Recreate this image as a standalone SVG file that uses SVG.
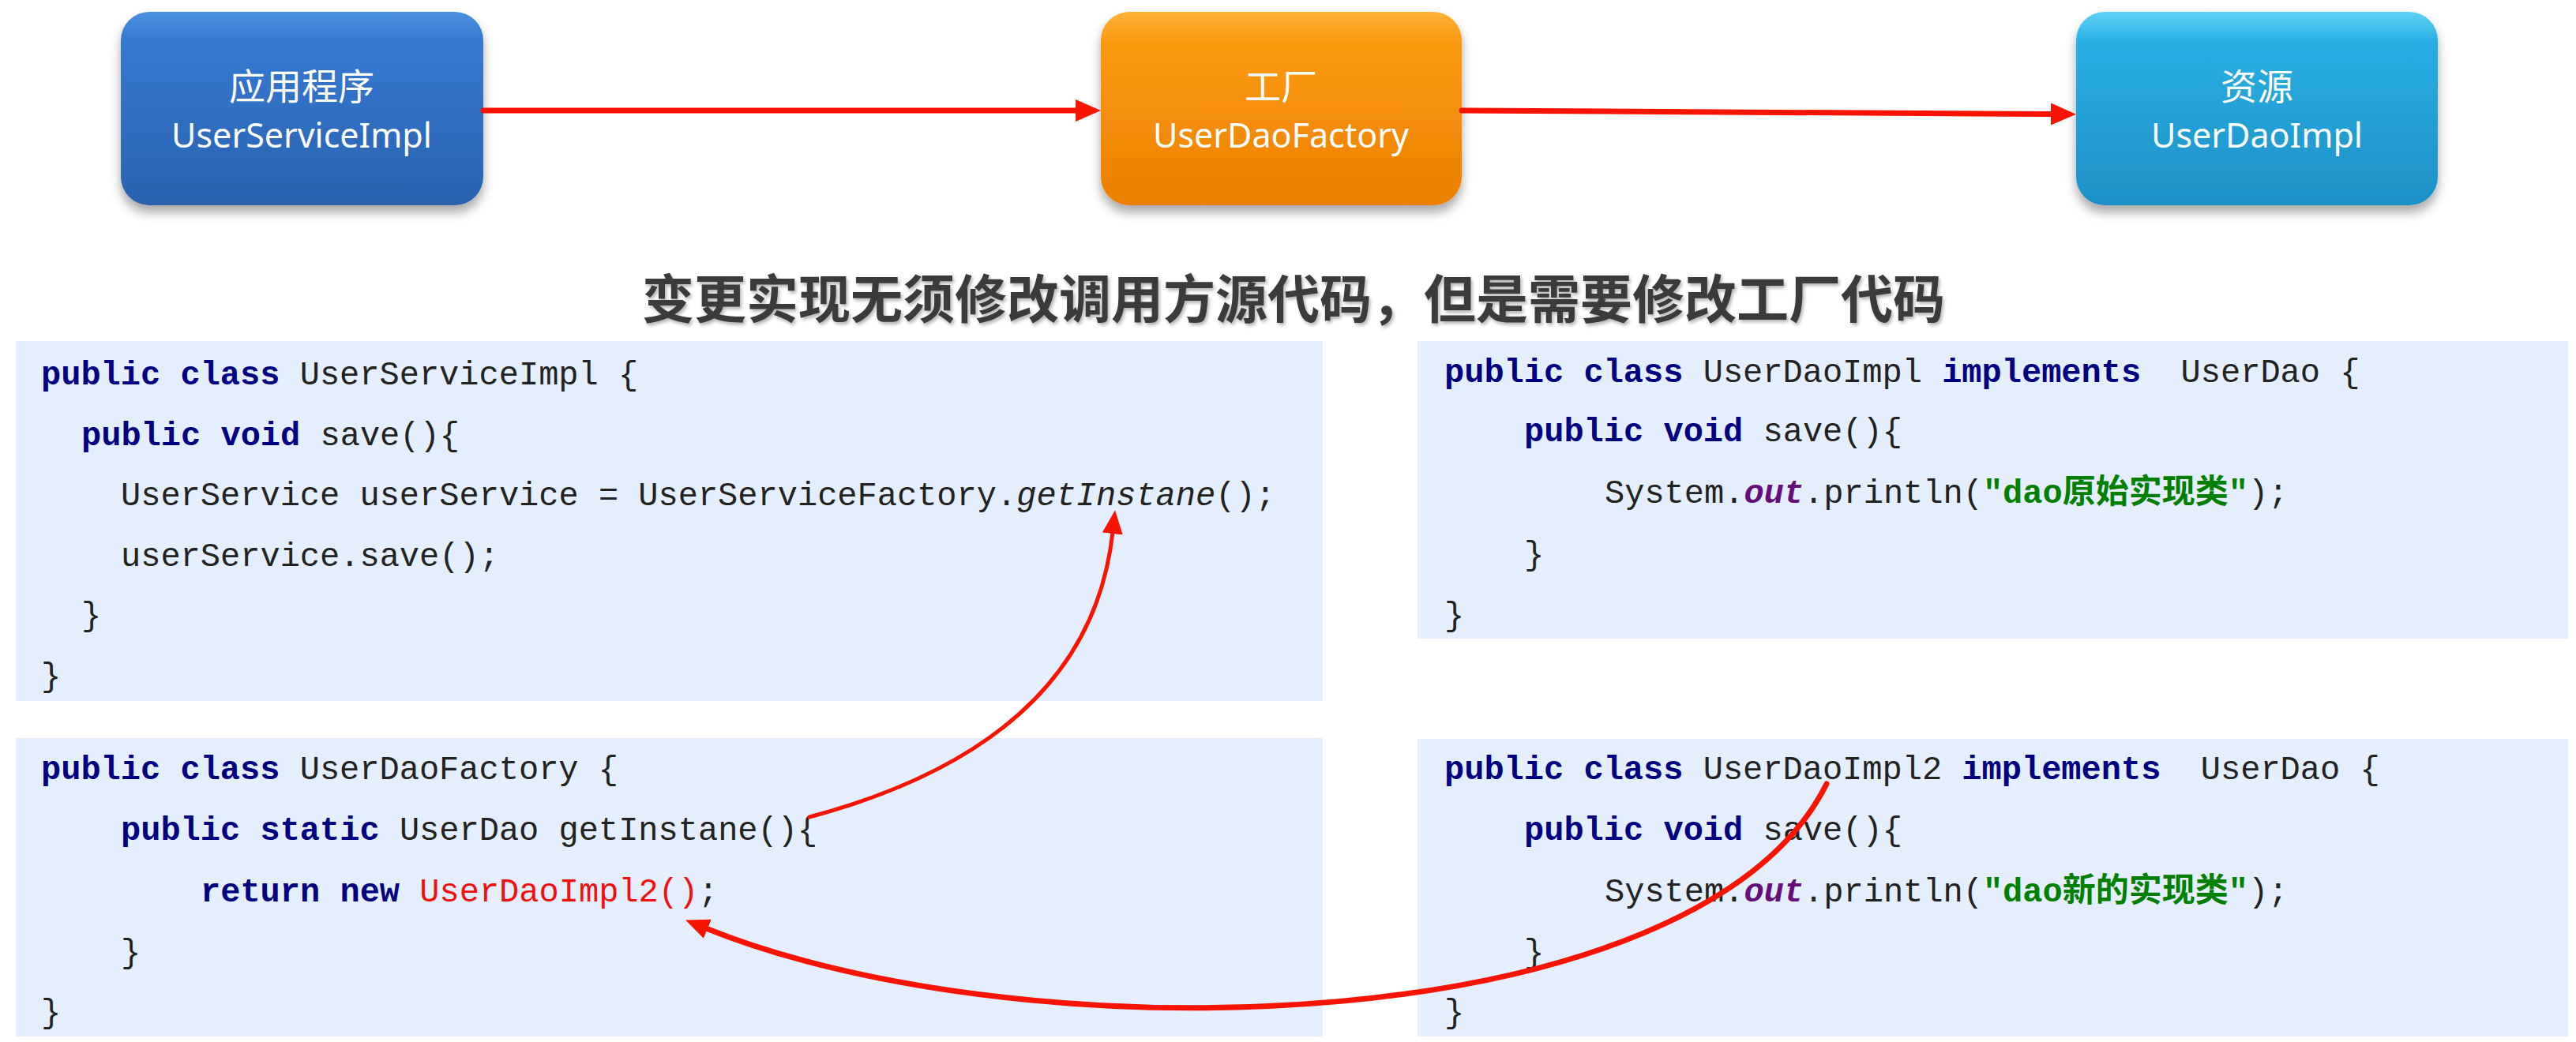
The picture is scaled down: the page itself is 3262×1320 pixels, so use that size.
<svg xmlns="http://www.w3.org/2000/svg" width="3262" height="1320" viewBox="0 0 3262 1320">
<style>
.box-t{font-family:"Noto Sans","Noto Sans CJK SC",sans-serif;fill:#ffffff;text-anchor:middle}
.cjk{font-size:46px}
.lat{font-size:43px}
.title{font-family:"Noto Sans CJK SC",sans-serif;font-weight:bold;font-size:66px;fill:#3a3a3a;text-anchor:middle}
.panel{fill:#e4eefc}
.code{font-family:"Liberation Mono","Noto Sans CJK SC",monospace;font-size:42px;fill:#222222;white-space:pre}
.kw{fill:#000080;font-weight:bold}
.it{font-style:italic}
.fld{fill:#660e7a;font-style:italic;font-weight:bold}
.str{fill:#008000;font-weight:bold}
.red{fill:#f01010}
.conn{fill:none;stroke:#f81400;stroke-linecap:round}
</style>
<defs>
<linearGradient id="gBlue" x1="0" y1="0" x2="0" y2="1">
<stop offset="0" stop-color="#4a90e0"/><stop offset="0.15" stop-color="#3579d2"/><stop offset="1" stop-color="#2a62ae"/>
</linearGradient>
<linearGradient id="gOrange" x1="0" y1="0" x2="0" y2="1">
<stop offset="0" stop-color="#ffb23a"/><stop offset="0.15" stop-color="#fb9a10"/><stop offset="1" stop-color="#ec7f00"/>
</linearGradient>
<linearGradient id="gCyan" x1="0" y1="0" x2="0" y2="1">
<stop offset="0" stop-color="#5fd2f6"/><stop offset="0.15" stop-color="#29b0e4"/><stop offset="1" stop-color="#1e90c6"/>
</linearGradient>
<filter id="sh" x="-10%" y="-10%" width="120%" height="130%">
<feDropShadow dx="0" dy="9" stdDeviation="7" flood-color="#000000" flood-opacity="0.35"/>
</filter>
<filter id="tsh" x="-5%" y="-20%" width="110%" height="150%">
<feDropShadow dx="2" dy="3" stdDeviation="2" flood-color="#000000" flood-opacity="0.3"/>
</filter>
<marker id="ah" markerUnits="userSpaceOnUse" markerWidth="34" markerHeight="30" refX="2" refY="14" orient="auto">
<path d="M0,0 L32,14 L0,28 z" fill="#f81400"/>
</marker>
<marker id="ah2" markerUnits="userSpaceOnUse" markerWidth="34" markerHeight="30" refX="2" refY="13" orient="auto">
<path d="M0,0 L30,13 L0,26 z" fill="#f81400"/>
</marker>
</defs>
<rect width="3262" height="1320" fill="#ffffff"/>

<g id="node-app">
<rect x="153" y="15" width="459" height="245" rx="36" fill="url(#gBlue)" filter="url(#sh)"/>
<text class="box-t cjk" x="382" y="126">应用程序</text>
<text class="box-t lat" x="382" y="187">UserServiceImpl</text>
</g>
<g id="node-factory">
<rect x="1394" y="15" width="457" height="245" rx="36" fill="url(#gOrange)" filter="url(#sh)"/>
<text class="box-t cjk" x="1622" y="126">工厂</text>
<text class="box-t lat" x="1622" y="187">UserDaoFactory</text>
</g>
<g id="node-resource">
<rect x="2629" y="15" width="458" height="245" rx="36" fill="url(#gCyan)" filter="url(#sh)"/>
<text class="box-t cjk" x="2858" y="126">资源</text>
<text class="box-t lat" x="2858" y="187">UserDaoImpl</text>
</g>

<text id="title" class="title" x="1638" y="403" filter="url(#tsh)">变更实现无须修改调用方源代码，但是需要修改工厂代码</text>

<g id="code-serviceimpl">
<rect class="panel" x="20" y="432" width="1655" height="456"/>
<text class="code" x="52" y="487"><tspan class="kw">public</tspan> <tspan class="kw">class</tspan> UserServiceImpl {</text>
<text class="code" x="103" y="564"><tspan class="kw">public</tspan> <tspan class="kw">void</tspan> save(){</text>
<text class="code" x="153" y="640">UserService userService = UserServiceFactory.<tspan class="it">getInstane</tspan>();</text>
<text class="code" x="153" y="717">userService.save();</text>
<text class="code" x="103" y="792">}</text>
<text class="code" x="52" y="869">}</text>
</g>

<g id="code-daoimpl">
<rect class="panel" x="1795" y="432" width="1457" height="377"/>
<text class="code" x="1829" y="484"><tspan class="kw">public</tspan> <tspan class="kw">class</tspan> UserDaoImpl <tspan class="kw">implements</tspan>  UserDao {</text>
<text class="code" x="1930" y="559"><tspan class="kw">public</tspan> <tspan class="kw">void</tspan> save(){</text>
<text class="code" x="2032" y="637">System.<tspan class="fld">out</tspan>.println(<tspan class="str">"dao原始实现类"</tspan>);</text>
<text class="code" x="1930" y="715">}</text>
<text class="code" x="1829" y="792">}</text>
</g>

<g id="code-daofactory">
<rect class="panel" x="20" y="935" width="1655" height="378"/>
<text class="code" x="52" y="987"><tspan class="kw">public</tspan> <tspan class="kw">class</tspan> UserDaoFactory {</text>
<text class="code" x="153" y="1064"><tspan class="kw">public</tspan> <tspan class="kw">static</tspan> UserDao getInstane(){</text>
<text class="code" x="254" y="1142"><tspan class="kw">return</tspan> <tspan class="kw">new</tspan> <tspan class="red">UserDaoImpl2()</tspan>;</text>
<text class="code" x="153" y="1219">}</text>
<text class="code" x="52" y="1295">}</text>
</g>

<g id="code-daoimpl2">
<rect class="panel" x="1795" y="936" width="1457" height="377"/>
<text class="code" x="1829" y="987"><tspan class="kw">public</tspan> <tspan class="kw">class</tspan> UserDaoImpl2 <tspan class="kw">implements</tspan>  UserDao {</text>
<text class="code" x="1930" y="1064"><tspan class="kw">public</tspan> <tspan class="kw">void</tspan> save(){</text>
<text class="code" x="2032" y="1142">System.<tspan class="fld">out</tspan>.println(<tspan class="str">"dao新的实现类"</tspan>);</text>
<text class="code" x="1930" y="1219">}</text>
<text class="code" x="1829" y="1295">}</text>
</g>

<g id="connectors">
<path class="conn" d="M612,140 L1364,140" stroke-width="7" marker-end="url(#ah)"/>
<path class="conn" d="M1851,140 L2599,144.5" stroke-width="7" marker-end="url(#ah)"/>
<path class="conn" d="M1025,1035 Q1380,940 1409,674" stroke-width="5" marker-end="url(#ah2)"/>
<path class="conn" d="M2313,993 C2150,1320 1300,1340 894,1176" stroke-width="7" marker-end="url(#ah2)"/>
</g>
</svg>
